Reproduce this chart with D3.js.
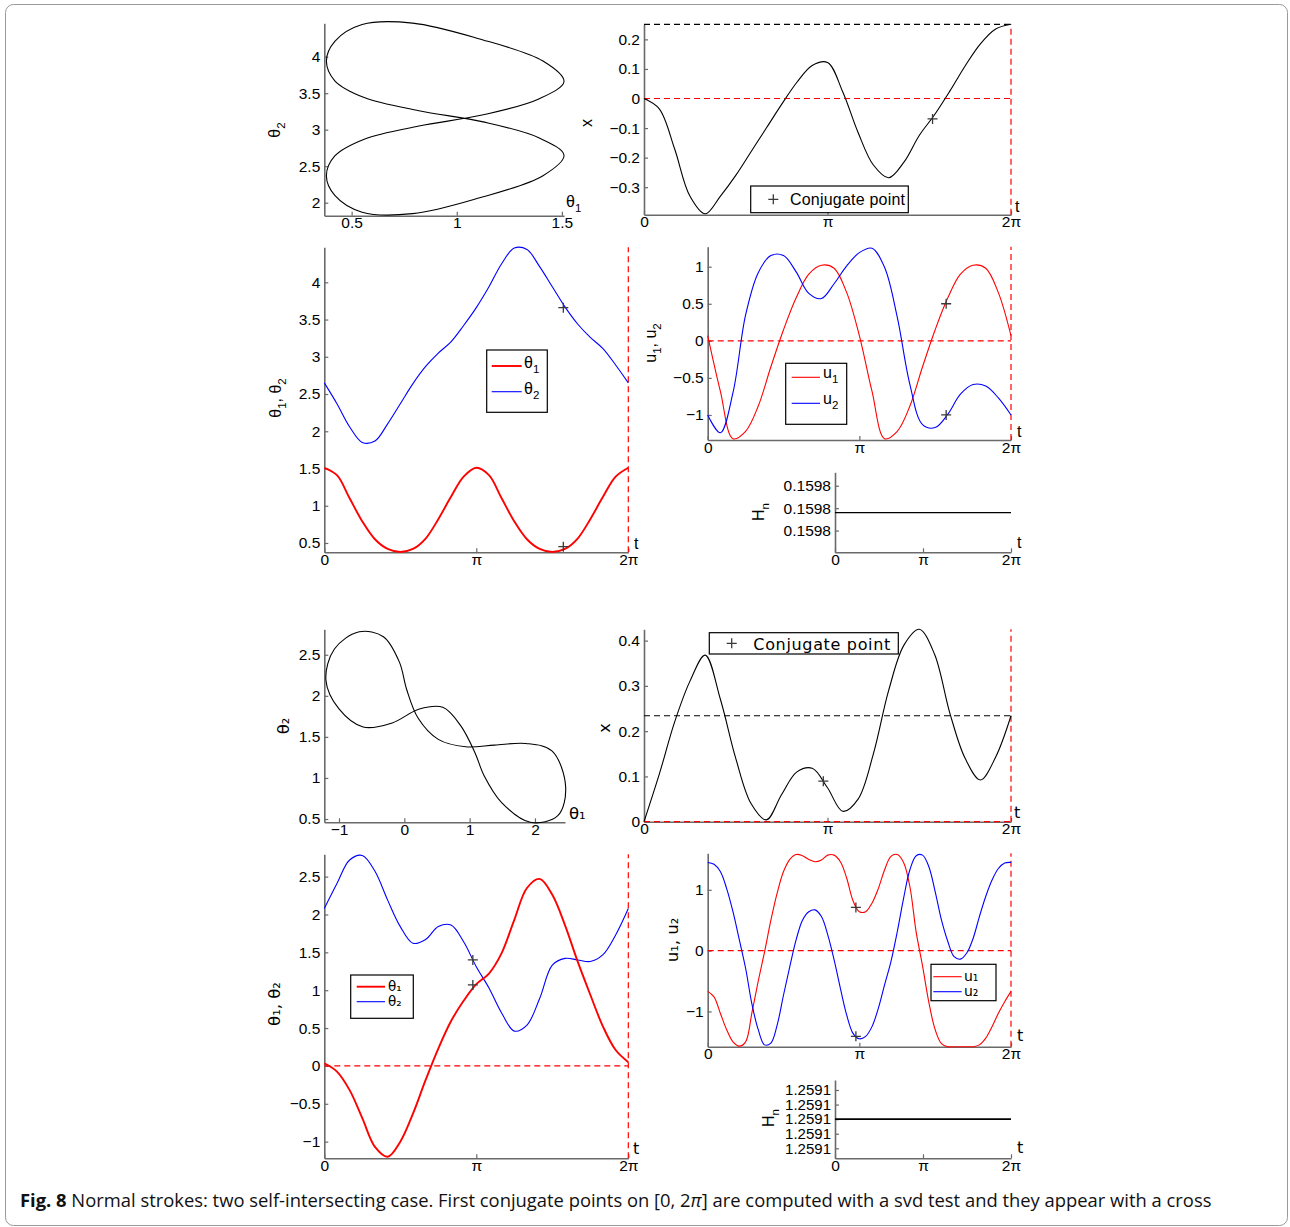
<!DOCTYPE html>
<html><head><meta charset="utf-8">
<script src="https://cdn.jsdelivr.net/npm/d3@7"></script>
<style>body{margin:0;background:#fff}svg{display:block}</style>
</head><body>
<svg id="fig" width="1290" height="1227"></svg>
<script>
const PI = Math.PI;
// ---------- sample times ----------
const tCoarse = d3.range(25).map(k => k * PI / 12);   // 0..2π step π/12
const tFine = d3.range(49).map(h => h * PI / 24);     // 0..2π step π/24
const tickT = [0, PI, 2 * PI];
const tickTLabels = ["0", "π", "2π"];

// ---------- case 1 (top) ----------
const th1Top = [1.51,1.41,1.10,0.79,0.55,0.42,0.38,0.42,0.56,0.82,1.12,1.39,1.51,1.41,1.10,0.79,0.55,0.42,0.38,0.42,0.56,0.82,1.12,1.39,1.51];
const th2Top = [2.65,2.37,2.06,1.85,1.87,2.10,2.37,2.64,2.87,3.05,3.20,3.42,3.66,3.94,4.25,4.46,4.44,4.21,3.94,3.67,3.44,3.26,3.11,2.89,2.65];
const xTop = [0,-0.035,-0.17,-0.33,-0.39,-0.33,-0.26,-0.18,-0.10,-0.02,0.055,0.112,0.122,0.022,-0.115,-0.225,-0.268,-0.215,-0.125,-0.055,0.025,0.11,0.185,0.235,0.251];
const u1Top = [0.07,-0.68,-1.32,-1.22,-0.88,-0.35,0.15,0.58,0.90,1.02,0.98,0.65,0.07,-0.68,-1.32,-1.22,-0.88,-0.35,0.15,0.58,0.90,1.02,0.98,0.65,0.07];
const u2Top = [-1.0,-1.24,-0.70,0.35,0.92,1.15,1.15,0.93,0.64,0.57,0.77,1.01,1.19,1.25,0.99,0.32,-0.59,-1.13,-1.17,-0.99,-0.72,-0.59,-0.61,-0.77,-1.0];
const hnTopT = [0, 2 * PI];
const hnTop = [0.159796, 0.159796];
const hnTopTicks = [0.15978, 0.15980, 0.15982];
const conjTopT = 4.94;
const conjTop = { x: -0.069, th1: 0.45, th2: 3.66, u1: 0.50, u2: -1.0 };

// ---------- case 2 (bottom) ----------
const th1Bot = [0.035,-0.075,-0.32,-0.69,-1.07,-1.20,-1.0,-0.63,-0.185,0.23,0.59,0.86,1.08,1.22,1.49,1.93,2.35,2.47,2.26,1.86,1.38,0.94,0.52,0.21,0.05];
const th2Bot = [2.08,2.41,2.72,2.78,2.57,2.19,1.84,1.62,1.67,1.84,1.86,1.64,1.31,1.03,0.70,0.46,0.54,0.89,1.33,1.42,1.40,1.38,1.47,1.73,2.08];
const xBot = [0,0.105,0.22,0.31,0.368,0.27,0.14,0.04,0.004,0.06,0.11,0.118,0.075,0.023,0.05,0.15,0.29,0.39,0.425,0.37,0.24,0.14,0.092,0.143,0.234];
const u1Bot = [-0.67,-0.76,-1.03,-1.30,-1.50,-1.57,-1.50,-1.02,-0.50,-0.02,0.50,0.95,1.30,1.50,1.58,1.56,1.50,1.46,1.49,1.57,1.57,1.46,1.19,0.82,0.64,0.64,0.78,1.02,1.33,1.55,1.58,1.45,1.05,0.30,-0.25,-0.85,-1.30,-1.53,-1.58,-1.58,-1.58,-1.58,-1.58,-1.55,-1.44,-1.25,-1.03,-0.84,-0.67];
const u2Bot = [1.45,1.42,1.30,1.02,0.64,0.18,-0.29,-0.88,-1.30,-1.55,-1.52,-1.22,-0.73,-0.26,0.18,0.50,0.64,0.67,0.56,0.26,-0.15,-0.62,-1.06,-1.36,-1.45,-1.41,-1.25,-0.95,-0.56,-0.18,0.31,0.86,1.33,1.56,1.57,1.38,0.97,0.50,0.15,-0.10,-0.14,-0.04,0.20,0.56,0.89,1.16,1.35,1.44,1.45];
const hnBotT = [0, 2 * PI];
const hnBot = [1.25910, 1.25910];
const hnBotTicks = [1.25906, 1.25908, 1.25910, 1.25912, 1.25914];
const conjBotT = 3.07;
const conjBot = { x: 0.0896, th1: 1.07, th2: 1.40, u1: 0.71, u2: -1.41 };

const caption = ["Fig. 8", " Normal strokes: two self-intersecting case. First conjugate points on [0, 2", "π", "] are computed with a svd test and they appear with a cross"];

// ---------- drawing ----------
const svg = d3.select("#fig");
const TF = "'Liberation Sans', Arial, sans-serif";
const DV = "'DejaVu Sans', sans-serif";
const AXC = "#6a6a6a";
const RED = "#ff0000", BLUE = "#0000ff";

svg.append("rect").attr("x", 5.5).attr("y", 4.5).attr("width", 1282).attr("height", 1221)
  .attr("rx", 8).attr("fill", "none").attr("stroke", "#9a9a9a").attr("stroke-width", 1);

function panel(o) {
  const x = d3.scaleLinear().domain(o.xDomain).range([o.left, o.right]);
  const y = d3.scaleLinear().domain(o.yDomain).range([o.bottom, o.top]);
  const g = svg.append("g");
  const gx = g.append("g").attr("transform", `translate(0,${o.bottom})`)
    .call(d3.axisBottom(x).tickValues(o.xTicks).tickFormat(o.xFmt)
      .tickSizeInner(-4).tickSizeOuter(0).tickPadding(1.5));
  const gy = g.append("g").attr("transform", `translate(${o.left},0)`)
    .call(d3.axisLeft(y).tickValues(o.yTicks).tickFormat(o.yFmt)
      .tickSizeInner(-4).tickSizeOuter(0).tickPadding(4));
  [gx, gy].forEach(a => {
    a.attr("font-family", TF).attr("font-size", 15.5);
    a.select(".domain").attr("stroke", AXC).attr("stroke-width", 1.6);
    a.selectAll(".tick line").attr("stroke", AXC).attr("stroke-width", 1.2);
    a.selectAll(".tick text").attr("fill", "#000");
  });
  if (o.yfs) gy.attr("font-size", o.yfs);
  return { x, y, g };
}

function rich(x, y, parts, o = {}) {
  const t = svg.append("text")
    .attr("transform", `translate(${x},${y})` + (o.rotate ? " rotate(-90)" : ""))
    .attr("text-anchor", o.anchor || "start")
    .attr("font-family", o.font || TF).attr("font-size", o.size || 16).attr("fill", "#000");
  let shift = 0;
  parts.forEach(p => {
    const isSub = typeof p !== "string";
    const target = isSub ? (o.subDy ?? 5) : 0;
    const sp = t.append("tspan").text(isSub ? p.sub : p).attr("dy", target - shift);
    if (isSub) sp.attr("font-size", o.subSize || 11.5);
    shift = target;
  });
  return t;
}

function curve(P, tArr, vals, color, w) {
  const pts = tArr.map((t, i) => [P.x(t), P.y(vals[i])]);
  P.g.append("path")
    .attr("d", d3.line().curve(d3.curveCatmullRom.alpha(0.5))(pts))
    .attr("fill", "none").attr("stroke", color).attr("stroke-width", w)
    .attr("stroke-linejoin", "round");
}
function phase(P, a, b, color, w) {
  const pts = a.slice(0, a.length - 1).map((v, i) => [P.x(v), P.y(b[i])]);
  P.g.append("path")
    .attr("d", d3.line().curve(d3.curveCatmullRomClosed.alpha(0.5))(pts))
    .attr("fill", "none").attr("stroke", color).attr("stroke-width", w);
}
function dashH(P, v, color) {
  P.g.append("line").attr("x1", P.x.range()[0]).attr("x2", P.x.range()[1])
    .attr("y1", P.y(v)).attr("y2", P.y(v))
    .attr("stroke", color).attr("stroke-width", 1.2).attr("stroke-dasharray", "6,4");
}
function dashV(P, t, color) {
  P.g.append("line").attr("x1", P.x(t)).attr("x2", P.x(t))
    .attr("y1", P.y.range()[0]).attr("y2", P.y.range()[1])
    .attr("stroke", color).attr("stroke-width", 1.2).attr("stroke-dasharray", "6,4");
}
function cross(P, t, v) {
  P.g.append("path").attr("transform", `translate(${P.x(t)},${P.y(v)})`)
    .attr("d", "M-5,0H5M0,-5V5").attr("stroke", "#3a3a3a").attr("stroke-width", 1.3);
}
function tLabel(x, y, font, size) {
  svg.append("text").attr("x", x).attr("y", y).attr("font-family", font || TF)
    .attr("font-size", size || 16).text("t");
}
const fmtG = d => (d < 0 ? "\u2212" : "") + d3.format("")(Math.abs(d));
const fmtT = (d, i) => tickTLabels[i];

// ===== Panel A: phase (top) =====
const A = panel({ left: 324.3, right: 564, top: 23.3, bottom: 215.7,
  xDomain: [0.37, 1.51], yDomain: [1.822, 4.457],
  xTicks: [0.5, 1, 1.5], xFmt: fmtG, yTicks: [2, 2.5, 3, 3.5, 4], yFmt: fmtG });
phase(A, th1Top, th2Top, "#000", 1.1);
rich(280, 130, ["θ", { sub: "2" }], { rotate: true, anchor: "middle" });
rich(566, 207, ["θ", { sub: "1" }]);

// ===== Panel B: x(t) (top) =====
const B = panel({ left: 644, right: 1011, top: 24.3, bottom: 214.7,
  xDomain: [0, 2 * PI], yDomain: [-0.393, 0.251],
  xTicks: tickT, xFmt: fmtT, yTicks: [-0.3, -0.2, -0.1, 0, 0.1, 0.2], yFmt: fmtG });
dashH(B, xTop[xTop.length - 1], "#000");
dashH(B, 0, RED);
dashV(B, 2 * PI, RED);
curve(B, tCoarse, xTop, "#000", 1.1);
cross(B, conjTopT, conjTop.x);
B.g.append("rect").attr("x", 750.7).attr("y", 186).attr("width", 157.6).attr("height", 26.7)
  .attr("fill", "#fff").attr("stroke", "#000").attr("stroke-width", 1.2);
B.g.append("path").attr("transform", "translate(773.3,199.3)").attr("d", "M-5,0H5M0,-5V5")
  .attr("stroke", "#3a3a3a").attr("stroke-width", 1.3);
svg.append("text").attr("x", 790).attr("y", 205).attr("font-family", TF).attr("font-size", 16)
  .attr("textLength", 115).attr("lengthAdjust", "spacing").text("Conjugate point");
rich(592, 123, ["x"], { rotate: true, anchor: "middle" });
tLabel(1015, 212);

// ===== Panel C: theta(t) (top) =====
const C = panel({ left: 324.3, right: 628.3, top: 247.3, bottom: 552.3,
  xDomain: [0, 2 * PI], yDomain: [0.375, 4.47],
  xTicks: tickT, xFmt: fmtT, yTicks: [0.5, 1, 1.5, 2, 2.5, 3, 3.5, 4], yFmt: fmtG });
dashV(C, 2 * PI, RED);
curve(C, tCoarse, th2Top, BLUE, 1.1);
curve(C, tCoarse, th1Top, RED, 1.9);
cross(C, conjTopT, conjTop.th2);
cross(C, conjTopT, conjTop.th1);
C.g.append("rect").attr("x", 486.7).attr("y", 350).attr("width", 60.6).attr("height", 62.3)
  .attr("fill", "#fff").attr("stroke", "#000").attr("stroke-width", 1.2);
C.g.append("line").attr("x1", 491.7).attr("x2", 521.7).attr("y1", 366).attr("y2", 366).attr("stroke", RED).attr("stroke-width", 1.9);
C.g.append("line").attr("x1", 491.7).attr("x2", 521.7).attr("y1", 391.7).attr("y2", 391.7).attr("stroke", BLUE).attr("stroke-width", 1.1);
rich(524, 368, ["θ", { sub: "1" }]);
rich(524, 394, ["θ", { sub: "2" }]);
rich(280.5, 398, ["θ", { sub: "1" }, ", θ", { sub: "2" }], { rotate: true, anchor: "middle" });
tLabel(634, 549);

// ===== Panel D: u(t) (top) =====
const D = panel({ left: 707.7, right: 1011, top: 246.7, bottom: 440,
  xDomain: [0, 2 * PI], yDomain: [-1.338, 1.27],
  xTicks: tickT, xFmt: fmtT, yTicks: [-1, -0.5, 0, 0.5, 1], yFmt: fmtG });
dashH(D, 0, RED);
dashV(D, 2 * PI, RED);
curve(D, tCoarse, u1Top, RED, 1.1);
curve(D, tCoarse, u2Top, BLUE, 1.1);
cross(D, conjTopT, conjTop.u1);
cross(D, conjTopT, conjTop.u2);
D.g.append("rect").attr("x", 785.7).attr("y", 363.3).attr("width", 61).attr("height", 61)
  .attr("fill", "#fff").attr("stroke", "#000").attr("stroke-width", 1.2);
D.g.append("line").attr("x1", 791.7).attr("x2", 820).attr("y1", 377.3).attr("y2", 377.3).attr("stroke", RED).attr("stroke-width", 1.1);
D.g.append("line").attr("x1", 791.7).attr("x2", 820).attr("y1", 403.3).attr("y2", 403.3).attr("stroke", BLUE).attr("stroke-width", 1.1);
rich(823, 378, ["u", { sub: "1" }]);
rich(823, 404, ["u", { sub: "2" }]);
rich(656, 343, ["u", { sub: "1" }, ", u", { sub: "2" }], { rotate: true, anchor: "middle" });
tLabel(1017, 437);

// ===== Panel E: Hn (top) =====
const E = panel({ left: 835, right: 1011, top: 472.3, bottom: 552.3,
  xDomain: [0, 2 * PI], yDomain: [0.1597606, 0.159832],
  xTicks: tickT, xFmt: fmtT, yTicks: hnTopTicks, yFmt: d3.format(".4f") });
curve(E, hnTopT, hnTop, "#000", 1.1);
rich(764, 512, ["H", { sub: "n" }], { rotate: true, anchor: "middle" });
tLabel(1017, 548);

// ===== Panel F: phase (bottom) =====
const F = panel({ left: 324.3, right: 565, top: 629.3, bottom: 822.3,
  xDomain: [-1.225, 2.46], yDomain: [0.46, 2.81],
  xTicks: [-1, 0, 1, 2], xFmt: fmtG, yTicks: [0.5, 1, 1.5, 2, 2.5], yFmt: fmtG });
phase(F, th1Bot, th2Bot, "#000", 1.1);
rich(289, 726, ["θ₂"], { rotate: true, anchor: "middle", font: DV, size: 16.5 });
rich(569, 819, ["θ₁"], { font: DV, size: 16.5 });

// ===== Panel H: x(t) (bottom) =====
const H = panel({ left: 644, right: 1011, top: 629.3, bottom: 821.7,
  xDomain: [0, 2 * PI], yDomain: [0, 0.425],
  xTicks: tickT, xFmt: fmtT, yTicks: [0, 0.1, 0.2, 0.3, 0.4], yFmt: fmtG });
dashH(H, xBot[xBot.length - 1], "#000");
dashH(H, 0, RED);
dashV(H, 2 * PI, RED);
curve(H, tCoarse, xBot, "#000", 1.1);
cross(H, conjBotT, conjBot.x);
H.g.append("rect").attr("x", 709.3).attr("y", 632.7).attr("width", 189).attr("height", 21.3)
  .attr("fill", "#fff").attr("stroke", "#000").attr("stroke-width", 1.2);
H.g.append("path").attr("transform", "translate(731.7,643.3)").attr("d", "M-5,0H5M0,-5V5")
  .attr("stroke", "#3a3a3a").attr("stroke-width", 1.3);
svg.append("text").attr("x", 753.3).attr("y", 649.5).attr("font-family", DV).attr("font-size", 16)
  .attr("textLength", 137).attr("lengthAdjust", "spacing").text("Conjugate point");
rich(610, 728, ["x"], { rotate: true, anchor: "middle", font: DV, size: 16 });
tLabel(1014, 818, DV, 16);

// ===== Panel G: theta(t) (bottom) =====
const G = panel({ left: 324.3, right: 628.3, top: 854.3, bottom: 1158.3,
  xDomain: [0, 2 * PI], yDomain: [-1.22, 2.795],
  xTicks: tickT, xFmt: fmtT, yTicks: [-1, -0.5, 0, 0.5, 1, 1.5, 2, 2.5], yFmt: fmtG });
dashH(G, 0, RED);
dashV(G, 2 * PI, RED);
curve(G, tCoarse, th2Bot, BLUE, 1.1);
curve(G, tCoarse, th1Bot, RED, 1.9);
cross(G, conjBotT, conjBot.th2);
cross(G, conjBotT, conjBot.th1);
G.g.append("rect").attr("x", 350.7).attr("y", 975).attr("width", 62.6).attr("height", 43.3)
  .attr("fill", "#fff").attr("stroke", "#000").attr("stroke-width", 1.2);
G.g.append("line").attr("x1", 356.7).attr("x2", 385).attr("y1", 986.7).attr("y2", 986.7).attr("stroke", RED).attr("stroke-width", 1.9);
G.g.append("line").attr("x1", 356.7).attr("x2", 385).attr("y1", 1001.7).attr("y2", 1001.7).attr("stroke", BLUE).attr("stroke-width", 1.1);
rich(388, 991, ["θ₁"], { font: DV, size: 13.5 });
rich(388, 1006, ["θ₂"], { font: DV, size: 13.5 });
rich(280, 1004, ["θ₁, θ₂"], { rotate: true, anchor: "middle", font: DV, size: 16.5 });
tLabel(633, 1154, DV, 16);

// ===== Panel I: u(t) (bottom) =====
const I = panel({ left: 707.7, right: 1011, top: 853.3, bottom: 1046.7,
  xDomain: [0, 2 * PI], yDomain: [-1.58, 1.6],
  xTicks: tickT, xFmt: fmtT, yTicks: [-1, 0, 1], yFmt: fmtG });
dashH(I, 0, RED);
dashV(I, 2 * PI, RED);
curve(I, tFine, u1Bot, RED, 1.1);
curve(I, tFine, u2Bot, BLUE, 1.1);
cross(I, conjBotT, conjBot.u1);
cross(I, conjBotT, conjBot.u2);
I.g.append("rect").attr("x", 931).attr("y", 964.3).attr("width", 65).attr("height", 36.4)
  .attr("fill", "#fff").attr("stroke", "#000").attr("stroke-width", 1.2);
I.g.append("line").attr("x1", 933.3).attr("x2", 961.7).attr("y1", 976.7).attr("y2", 976.7).attr("stroke", RED).attr("stroke-width", 1.1);
I.g.append("line").attr("x1", 933.3).attr("x2", 961.7).attr("y1", 991.7).attr("y2", 991.7).attr("stroke", BLUE).attr("stroke-width", 1.1);
rich(964, 980.5, ["u₁"], { font: DV, size: 14 });
rich(964, 995.5, ["u₂"], { font: DV, size: 14 });
rich(678, 940, ["u₁, u₂"], { rotate: true, anchor: "middle", font: DV, size: 16.5 });
tLabel(1017, 1041, DV, 16);

// ===== Panel J: Hn (bottom) =====
const J = panel({ left: 835, right: 1011, top: 1080, bottom: 1158.3,
  xDomain: [0, 2 * PI], yDomain: [1.2590463, 1.2591537],
  xTicks: tickT, xFmt: fmtT, yTicks: hnBotTicks, yFmt: d3.format(".4f"), yfs: 15 });
curve(J, hnBotT, hnBot, "#000", 1.6);
rich(773.5, 1118, ["H", { sub: "n" }], { rotate: true, anchor: "middle" });
tLabel(1017, 1153, DV, 16);

// ===== caption =====
const cap = svg.append("text").attr("x", 20).attr("y", 1207)
  .attr("font-family", "'Open Sans', 'Noto Sans', sans-serif").attr("font-size", 16).attr("fill", "#111");
cap.append("tspan").attr("font-weight", "bold").text(caption[0]);
cap.append("tspan").text(caption[1]);
cap.append("tspan").attr("font-style", "italic").text(caption[2]);
cap.append("tspan").text(caption[3]);
const cw = cap.node().getComputedTextLength();
cap.attr("font-size", 16 * 1192 / cw);
</script>
</body></html>
